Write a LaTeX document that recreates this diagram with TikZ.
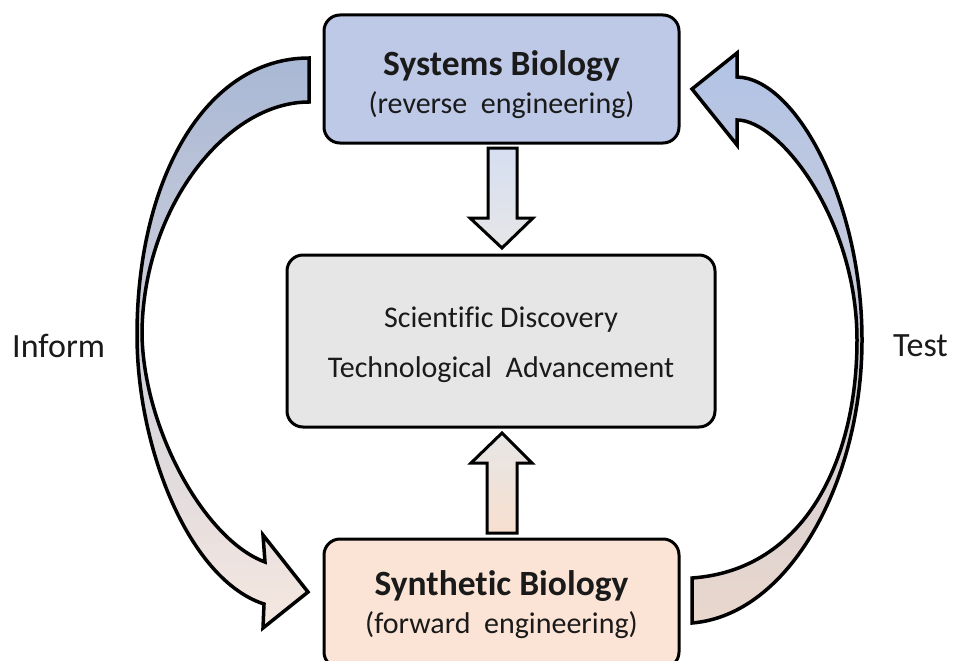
\documentclass[tikz,border=0pt]{standalone}
\usepackage{fontspec}
\usetikzlibrary{calc}
\setmainfont[Ligatures=NoCommon]{Carlito}
\definecolor{sbfill}{HTML}{BDC9E6}
\definecolor{midfill}{HTML}{E6E6E6}
\definecolor{synfill}{HTML}{FBE4D5}
\definecolor{lefttop}{HTML}{A9B8D5}
\definecolor{leftbot}{HTML}{F6E8E0}
\definecolor{righttop}{HTML}{B1C3E6}
\definecolor{rightbot}{HTML}{E9D7CC}
\definecolor{downtop}{HTML}{D6DFF1}
\definecolor{uptbot}{HTML}{F8DFCF}
\definecolor{txt}{HTML}{1A1A1A}
\begin{document}
\begin{tikzpicture}[x=1pt,y=-1pt,
  box/.style={draw=black,line width=3pt,rounded corners=16pt,inner sep=0pt},
  title/.style={font=\fontsize{35.5}{42}\selectfont\bfseries,text=txt,inner sep=0pt,anchor=base},
  sub/.style={font=\fontsize{30}{36}\selectfont,text=txt,inner sep=0pt,anchor=base},
  blockarrow/.style={draw=black,line width=3pt,line join=miter},
  curvearrow/.style={draw=black,line width=3.5pt,line join=miter},
  sidelabel/.style={font=\fontsize{34}{40}\selectfont,text=txt,inner sep=0pt}]
\useasboundingbox (0,0) rectangle (953,661);
\fill[white] (0,0) rectangle (953,661);
\begin{scope}
\clip (0,0) rectangle (953,661);
% boxes
\node[box,fill=sbfill,minimum width=355pt,minimum height=128pt] (sb) at (501.5,79) {};
\node[box,fill=midfill,minimum width=428pt,minimum height=172pt] (mid) at (501,341) {};
\node[box,fill=synfill,minimum width=355pt,minimum height=129pt] (syn) at (501.5,603.5) {};
% straight block arrows
\shadedraw[blockarrow,top color=downtop,bottom color=midfill]
  (488,148) -- (517,148) -- (517,218) -- (533,218) -- (502,248) -- (470,218) -- (488,218) -- cycle;
\shadedraw[blockarrow,top color=midfill,bottom color=uptbot]
  (487,533) -- (517,533) -- (517,463) -- (532,463) -- (502,433) -- (471,463) -- (487,463) -- cycle;
% left curved arrow (Inform)
\shadedraw[curvearrow,top color=lefttop,bottom color=leftbot]
  (309,58) -- (309,102)
  .. controls (225,102) and (142,210) .. (142,335)
  .. controls (144,430) and (205,540) .. (265,562)
  -- (263,535) -- (308,592) -- (263,628) -- (264,604)
  .. controls (190,580) and (137,450) .. (137,335)
  .. controls (137,180) and (205,58) .. (309,58) -- cycle;
% right curved arrow (Test)
\shadedraw[curvearrow,top color=righttop,bottom color=rightbot]
  (692,578) -- (692,623)
  .. controls (790,615) and (862,480) .. (862,340)
  .. controls (862,200) and (795,78) .. (737,77)
  -- (737,53) -- (692,89) -- (737,145) -- (737,120)
  .. controls (780,120) and (857,220) .. (857,340)
  .. controls (857,460) and (805,570) .. (692,578) -- cycle;
\end{scope}
% box texts
\node[title] (sbt) at ($(sb.center)+(0,-4)$) {Systems Biology};
\node[sub] (sbs) at ($(sb.center)+(0,34)$) {(reverse\ \ engineering)};
\node[sub] (midt) at ($(mid.center)+(0,-14)$) {Scientific Discovery};
\node[sub] (mids) at ($(mid.center)+(0,36)$) {Technological\ \ Advancement};
\node[title] (synt) at ($(syn.center)+(0,-8.5)$) {Synthetic Biology};
\node[sub] (syns) at ($(syn.center)+(0,29.5)$) {(forward\ \ engineering)};
% side labels
\node[sidelabel,anchor=base west] (inform) at (12,357) {Inform};
\node[sidelabel,anchor=base east] (test) at (948,356) {Test};
\end{tikzpicture}
\end{document}
